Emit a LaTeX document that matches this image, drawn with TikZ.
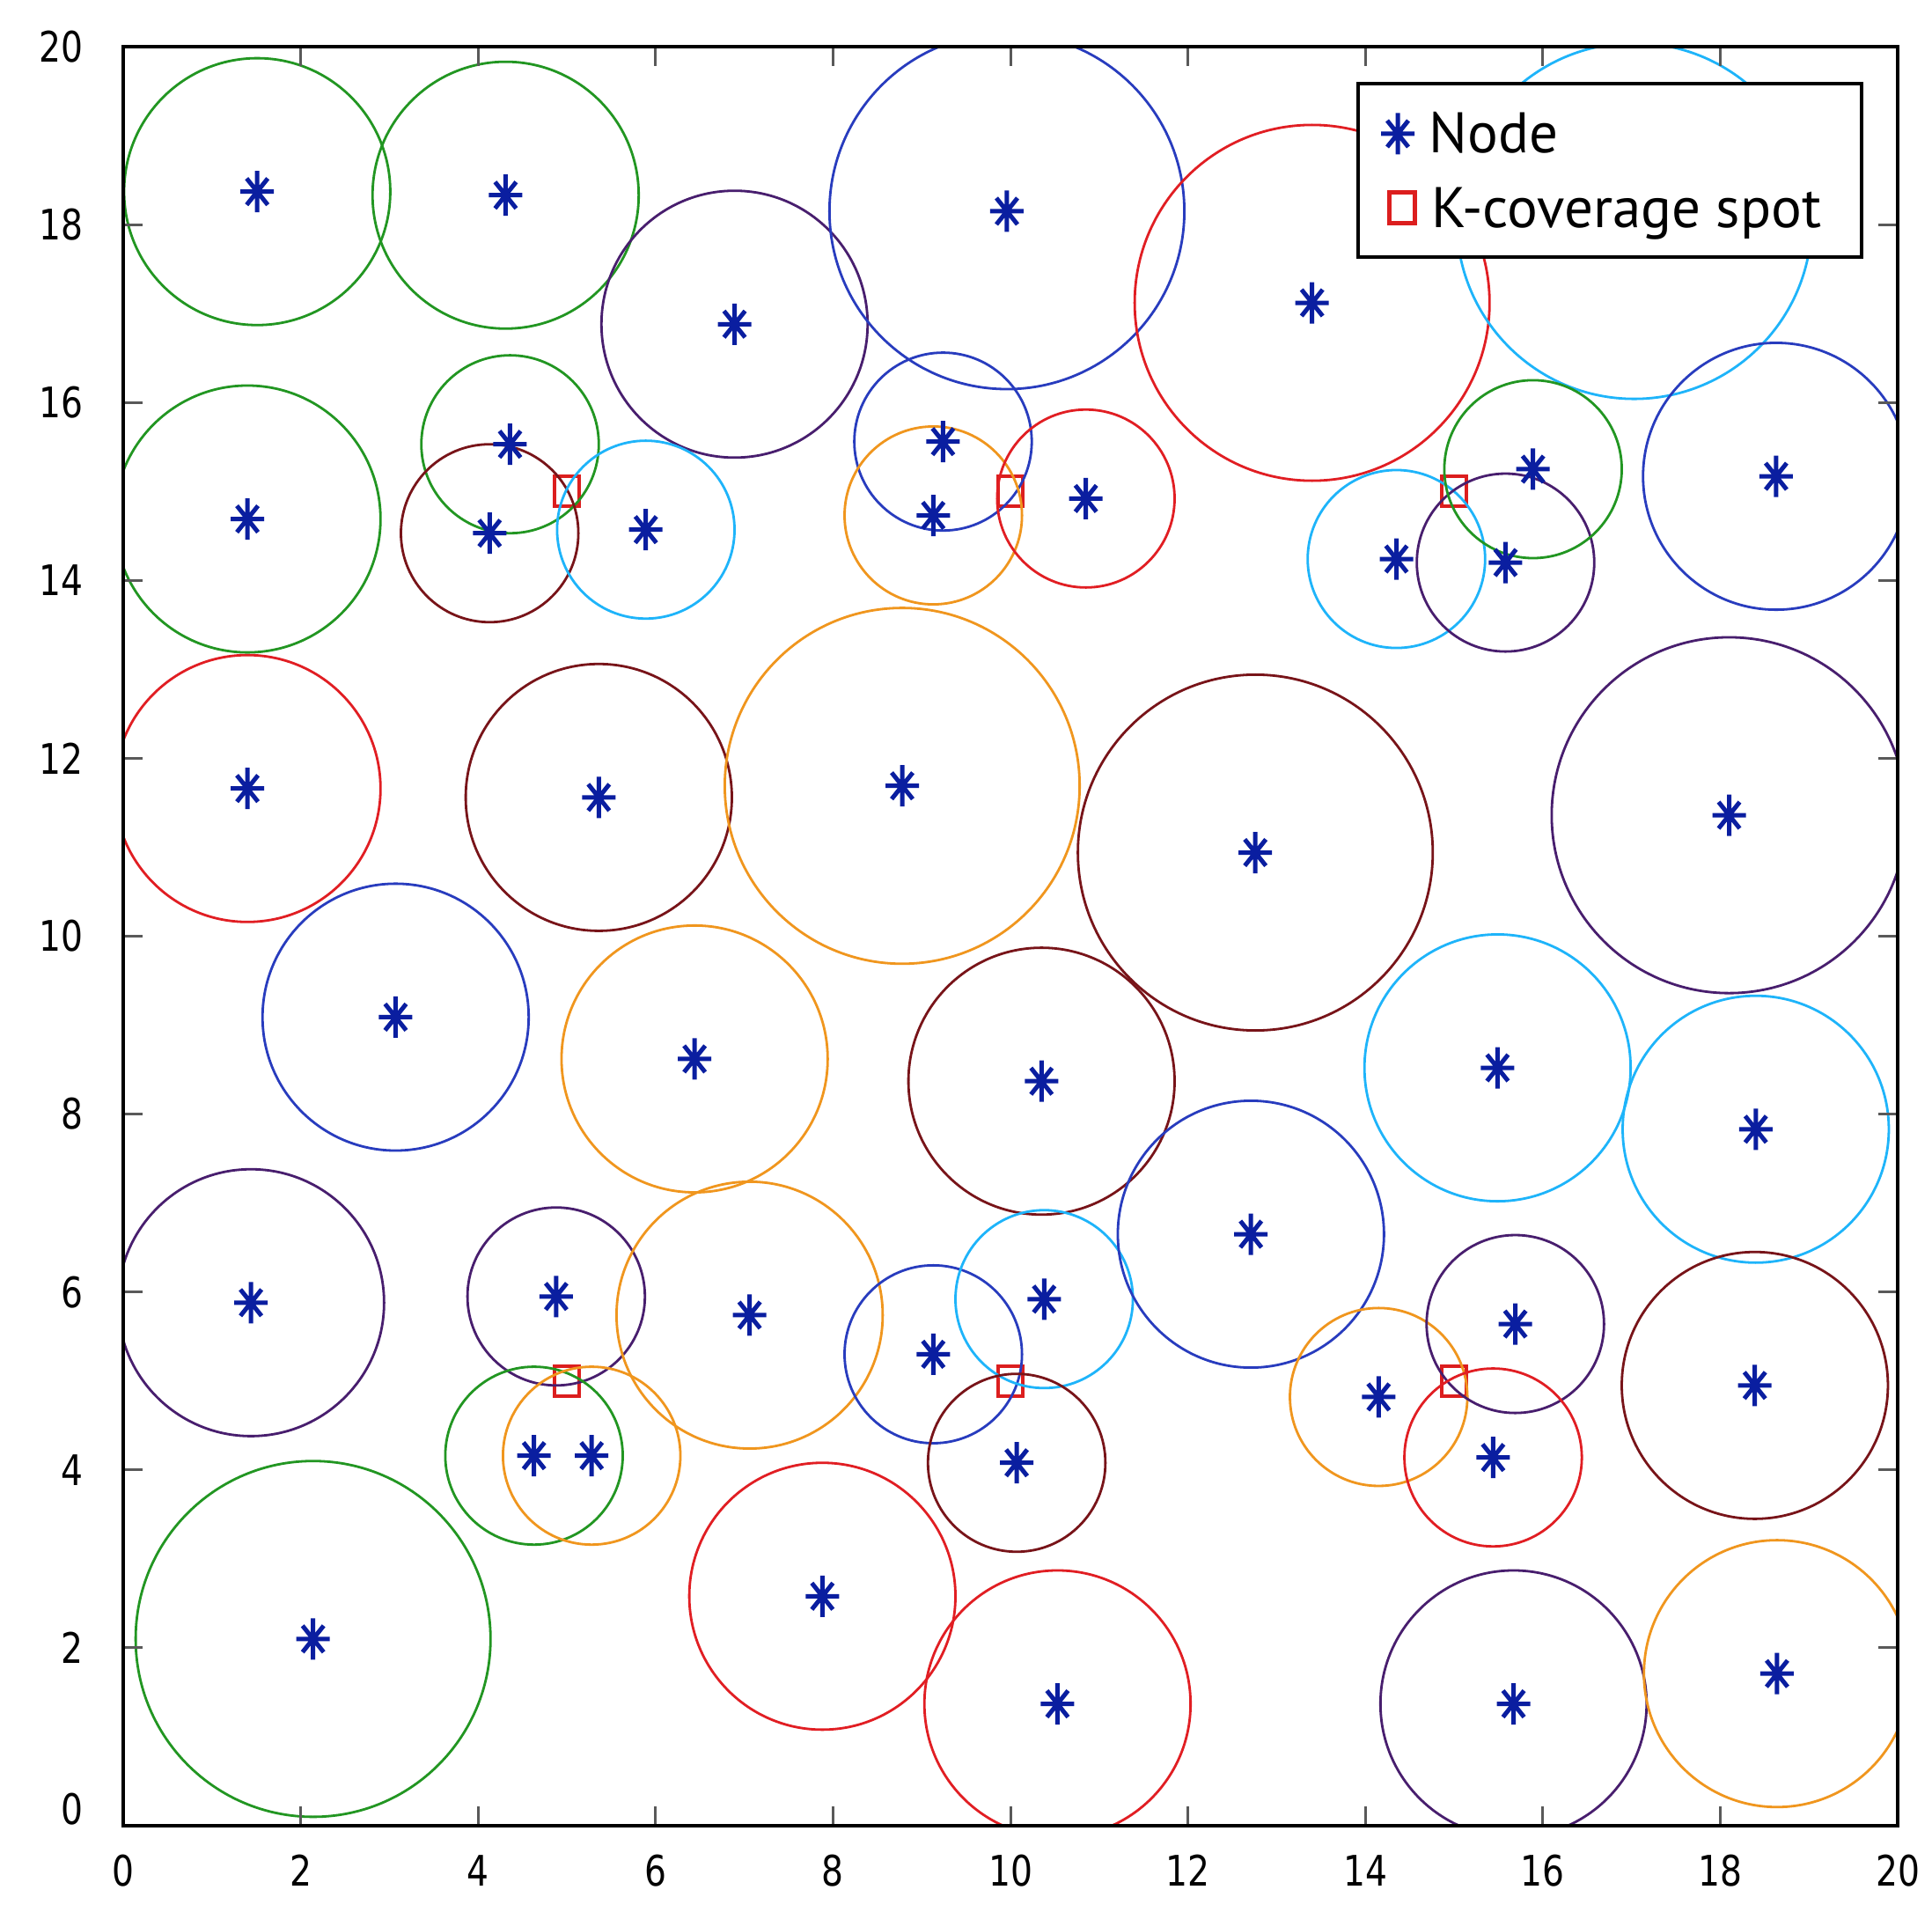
\documentclass[tikz,border=0pt]{standalone}
\usepackage{fontspec}
\newfontfamily\tickfont[FakeStretch=0.82]{DejaVu Sans}
\newfontfamily\legfont{PT Sans}
\definecolor{cgreen}{RGB}{34,150,34}
\definecolor{cpurple}{RGB}{72,30,110}
\definecolor{cblue}{RGB}{40,60,190}
\definecolor{cred}{RGB}{225,30,35}
\definecolor{clight}{RGB}{30,180,250}
\definecolor{corange}{RGB}{240,150,30}
\definecolor{cdark}{RGB}{120,20,25}
\definecolor{cnode}{RGB}{10,30,160}
\definecolor{csq}{RGB}{220,30,30}
\tikzset{
  sensor/.pic={\draw[cnode, line width=0.05cm]
     (0,-0.235cm)--(0,0.235cm) (-0.19cm,0)--(0.19cm,0)
     (-0.12cm,-0.15cm)--(0.12cm,0.15cm) (-0.12cm,0.15cm)--(0.12cm,-0.15cm);},
  rangecircle/.style={line width=0.028cm},
  kspot/.style={draw=csq, line width=0.042cm},
  tickline/.style={draw=black!65, line width=0.03cm},
  ticklabel/.style={font=\tickfont\fontsize{13.6}{16}\selectfont, inner sep=0pt},
  leglabel/.style={font=\legfont\fontsize{18.5}{22}\selectfont, inner sep=0pt, anchor=base west}
}
\begin{document}
\begin{tikzpicture}
\useasboundingbox (0,0) rectangle (21.95,21.71);
\fill[white] (0,0) rectangle (21.95,21.71);
\begin{scope}[shift={(1.40,0.97)}, x=1.008cm, y=1.0105cm]
  % K-coverage spots
  \foreach \x/\y in {5/15,10/15,15/15,5/5,10/5,15/5}
    \draw[kspot] (\x,\y) ++(-0.14cm,-0.17cm) rectangle ++(0.28cm,0.34cm);
  % sensing ranges
  \begin{scope}
    \clip (0,0) rectangle (20,20);
    \foreach \x/\y/\r/\c in {
      1.51/18.37/1.5/cgreen, 4.31/18.33/1.5/cgreen, 6.89/16.88/1.5/cpurple,
      9.96/18.15/2/cblue, 13.40/17.12/2/cred, 17.03/18.04/2/clight,
      1.40/14.69/1.5/cgreen, 4.36/15.53/1/cgreen, 4.13/14.53/1/cdark,
      5.89/14.57/1/clight, 9.24/15.56/1/cblue, 9.13/14.73/1/corange,
      10.85/14.92/1/cred, 14.35/14.24/1/clight, 15.58/14.20/1/cpurple,
      15.89/15.25/1/cgreen, 18.63/15.17/1.5/cblue, 1.40/11.66/1.5/cred,
      5.36/11.56/1.5/cdark, 8.78/11.69/2/corange, 12.76/10.94/2/cdark,
      18.10/11.36/2/cpurple, 3.07/9.09/1.5/cblue, 6.44/8.62/1.5/corange,
      10.35/8.37/1.5/cdark, 15.49/8.52/1.5/clight, 18.40/7.83/1.5/clight,
      1.44/5.88/1.5/cpurple, 4.88/5.95/1/cpurple, 7.06/5.74/1.5/corange,
      9.13/5.30/1/cblue, 10.38/5.92/1/clight, 12.71/6.65/1.5/cblue,
      14.15/4.82/1/corange, 15.69/5.64/1/cpurple, 15.44/4.14/1/cred,
      18.39/4.95/1.5/cdark, 4.63/4.16/1/cgreen, 5.28/4.16/1/corange,
      10.07/4.08/1/cdark, 2.14/2.10/2/cgreen, 7.88/2.58/1.5/cred,
      10.53/1.37/1.5/cred, 15.67/1.37/1.5/cpurple, 18.64/1.71/1.5/corange}
      \draw[rangecircle, draw=\c] (\x,\y) circle [radius=\r];
    % sensor nodes
    \foreach \x/\y in {
      1.51/18.37, 4.31/18.33, 6.89/16.88, 9.96/18.15, 13.40/17.12, 17.03/18.04,
      1.40/14.69, 4.36/15.53, 4.13/14.53, 5.89/14.57, 9.24/15.56, 9.13/14.73,
      10.85/14.92, 14.35/14.24, 15.58/14.20, 15.89/15.25, 18.63/15.17, 1.40/11.66,
      5.36/11.56, 8.78/11.69, 12.76/10.94, 18.10/11.36, 3.07/9.09, 6.44/8.62,
      10.35/8.37, 15.49/8.52, 18.40/7.83, 1.44/5.88, 4.88/5.95, 7.06/5.74,
      9.13/5.30, 10.38/5.92, 12.71/6.65, 14.15/4.82, 15.69/5.64, 15.44/4.14,
      18.39/4.95, 4.63/4.16, 5.28/4.16, 10.07/4.08, 2.14/2.10, 7.88/2.58,
      10.53/1.37, 15.67/1.37, 18.64/1.71}
      \pic at (\x,\y) {sensor};
  \end{scope}
  % ticks
  \foreach \v in {2,4,...,18} {
    \draw[tickline] (\v,0) -- ++(0,0.22cm);
    \draw[tickline] (\v,20) -- ++(0,-0.22cm);
    \draw[tickline] (0,\v) -- ++(0.22cm,0);
    \draw[tickline] (20,\v) -- ++(-0.22cm,0);
  }
  % frame
  \coordinate (O) at (0,0);
  \coordinate (TR) at (20,20);
  \draw[black, line width=0.035cm] (O) rectangle (TR);
  % tick labels
  \foreach \v in {0,2,...,20}
    \node[ticklabel] (xl\v) at (\v,0) [yshift=-0.51cm] {\v};
  \node[ticklabel, anchor=east] (yl0) at (0,0) [xshift=-0.45cm, yshift=0.19cm] {0};
  \foreach \v in {2,4,...,20}
    \node[ticklabel, anchor=east] (yl\v) at (0,\v) [xshift=-0.45cm] {\v};
\end{scope}
% legend
\draw[black, line width=0.04cm, fill=white] (15.43,18.79) rectangle (21.15,20.76);
\pic at (15.88,20.19) {sensor};
\draw[kspot] (15.93,19.35) ++(-0.145,-0.175) rectangle ++(0.29,0.35);
\node[leglabel] (lnode) at (16.23,19.97) {Node};
\node[leglabel] (lspot) at (16.26,19.12) {K-coverage spot};
\end{tikzpicture}
\end{document}
